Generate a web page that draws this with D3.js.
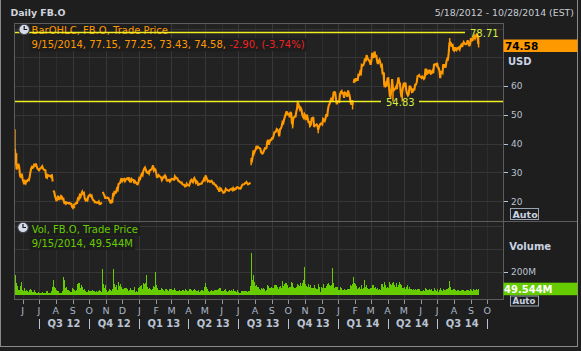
<!DOCTYPE html>
<html><head><meta charset="utf-8">
<script src="https://cdn.jsdelivr.net/npm/d3@7"></script>
<style>
html,body{margin:0;padding:0;background:#1e1e1e;}
svg{display:block;}
text{font-family:"DejaVu Sans",Verdana,sans-serif;}
</style></head><body>
<svg id="c" width="581" height="351"></svg>
<script>
// ---------------- DATA ----------------
const title = "Daily FB.O";
const dateRange = "5/18/2012 - 10/28/2014 (EST)";
const firstTradeDay = "2012-05-18";
const lastTradeDay = "2014-09-15";
const domainStart = "2012-05-16T06:00:00Z";
const domainEnd = "2014-10-29T18:00:00Z";

const closeMonths = ["2012-05","2012-06","2012-07","2012-08","2012-09","2012-10","2012-11","2012-12",
 "2013-01","2013-02","2013-03","2013-04","2013-05","2013-06","2013-07","2013-08","2013-09","2013-10","2013-11","2013-12",
 "2014-01","2014-02","2014-03","2014-04","2014-05","2014-06","2014-07","2014-08","2014-09"];

// daily closes per month (null = price gap between bars)
const closes = [
 [38.23,34.03,31.00,32.00,33.03,31.91,28.84,28.19,29.60],
 [27.72,26.90,25.87,26.81,26.31,27.10,27.01,27.40,27.27,28.29,30.01,31.41,31.91,31.60,31.84,33.05,32.06,33.10,32.23,31.36,31.10],
 [30.77,31.20,31.47,31.73,32.17,31.47,30.97,30.81,30.72,28.25,28.09,29.11,29.00,28.76,28.75,28.45,29.34,26.85,null,23.71,23.15,21.71],
 [20.88,20.04,21.09,21.92,20.72,20.72,21.01,21.81,21.60,20.38,21.20,19.87,19.05,20.01,19.16,19.44,19.44,19.41,19.15,19.34,19.10,19.09,18.06],
 [17.73,18.58,18.96,18.98,19.43,19.43,20.93,20.71,22.00,21.52,22.59,23.29,22.59,22.86,20.79,20.28,20.62,20.32,21.66],
 [21.99,22.27,21.83,22.00,20.91,20.40,20.23,19.64,19.75,19.52,19.52,19.48,19.88,18.98,19.00,19.32,19.50,null,23.23,22.56,21.94,21.11],
 [21.21,21.18,21.25,21.17,20.47,19.99,19.21,20.07,19.86,22.36,22.17,23.56,22.92,23.10,24.32,24.00,25.94,26.15,26.36,27.32,28.00],
 [27.04,27.46,27.71,26.97,27.49,27.84,27.98,27.58,28.24,26.81,26.75,27.71,27.41,27.36,26.26,26.93,26.51,26.05,25.91,26.62],
 [28.00,27.77,28.76,29.42,29.06,30.59,31.30,31.72,30.95,30.10,29.85,30.14,29.66,30.73,30.82,31.08,31.54,32.47,30.79,31.24,30.98],
 [29.73,28.11,28.64,29.05,28.65,28.55,28.26,27.37,27.91,28.50,28.32,28.93,28.46,27.28,27.13,27.27,27.39,26.87,27.25],
 [27.78,27.72,27.52,27.45,28.58,27.96,28.14,27.83,27.08,27.04,26.65,26.49,26.55,25.86,25.74,25.73,25.13,25.21,26.09,25.58],
 [25.53,25.42,26.25,27.07,27.39,26.85,26.59,27.57,28.02,27.40,26.52,26.92,26.63,25.69,25.73,25.97,25.98,26.11,26.14,26.85,26.98,27.77],
 [27.43,28.97,28.31,27.57,26.89,27.12,27.04,26.68,26.82,27.07,26.60,26.13,26.25,25.76,25.66,25.16,25.06,24.31,24.10,23.32,24.55,24.35],
 [23.85,23.52,22.90,22.97,23.29,24.33,24.03,23.77,23.73,23.63,24.02,24.21,24.31,23.90,24.53,23.94,24.25,24.16,24.66,24.88],
 [24.81,24.41,24.52,24.37,24.71,25.48,25.80,25.81,25.91,26.28,26.32,26.65,26.18,25.88,26.05,26.13,26.51,null,34.36,34.01,35.43,37.63,36.80],
 [37.49,38.05,39.19,38.55,38.87,38.54,38.50,38.22,37.02,36.65,36.56,37.08,37.81,38.41,38.32,38.55,40.55,41.34,39.64,40.55,41.28,41.29],
 [41.87,41.78,42.66,43.95,44.04,44.24,45.04,44.75,44.31,42.51,45.07,45.23,45.98,47.49,47.19,48.45,49.46,50.39,51.24,50.23],
 [50.42,50.28,49.18,51.04,50.52,47.14,46.77,49.05,49.11,49.51,49.50,51.14,52.21,54.22,53.85,52.68,51.90,52.45,51.95,50.23,49.40,49.01,50.21],
 [49.75,48.22,50.11,49.12,47.56,47.53,46.20,46.61,48.71,48.99,49.01,45.83,46.36,46.43,46.70,46.23,44.82,45.89,46.49,47.01],
 [47.06,46.73,48.62,48.34,47.94,48.84,50.25,49.38,51.83,53.32,53.81,54.86,55.57,55.05,55.12,57.77,57.96,57.73,55.44,53.71,54.65],
 [54.71,54.56,57.20,57.92,58.23,57.22,57.94,55.91,57.74,57.60,57.19,56.30,58.51,57.51,56.63,54.45,53.55,55.14,53.53,null,61.08,62.57],
 [61.48,62.75,62.19,62.16,64.32,63.55,64.85,64.45,67.33,67.09,67.30,68.06,69.63,68.59,70.78,69.85,69.26,68.94,68.46],
 [67.41,68.80,71.57,70.84,69.80,72.03,70.10,70.88,68.83,67.72,68.74,69.19,68.24,66.97,67.24,64.10,64.89,60.39,60.97,60.01,60.24],
 [62.62,62.72,59.49,56.75,56.95,58.19,62.41,59.16,58.53,58.89,59.09,59.72,58.94,61.24,63.03,61.36,60.87,57.71,56.14,58.15,59.78],
 [61.15,60.46,61.22,58.53,57.39,56.76,57.24,59.83,59.83,59.23,57.92,58.02,59.21,58.56,60.49,60.52,61.35,63.48,63.51,63.83,63.30],
 [63.08,62.87,63.34,62.88,62.50,62.88,65.77,65.78,64.29,64.50,65.60,65.00,65.60,64.34,64.50,65.18,64.51,67.44,67.58,67.60,67.29],
 [68.06,66.45,66.29,65.29,62.76,64.97,64.87,64.56,67.64,66.34,67.66,66.41,68.42,69.40,69.27,71.29,74.98,75.19,74.92,73.71,74.68,72.65],
 [72.36,73.51,72.69,72.47,73.17,73.06,73.44,72.83,73.77,74.30,73.63,74.59,75.29,74.81,74.57,74.57,75.02,75.96,74.63,73.86,74.82],
 [76.68,75.83,75.95,77.03,77.43,76.67,77.43,77.92,77.48,74.58]
];

// daily volume per month, millions of shares
const volumes = [
 [573,168,102,74,43,37,78,57,111],
 [41,35,42,61,27,38,28,25,16,40,44,31,40,26,22,36,17,20,15,15,19],
 [14,12,15,12,18,20,13,13,12,30,22,28,15,14,16,16,27,64,124,64,56],
 [48,38,35,26,30,17,15,14,15,30,28,157,129,56,66,40,36,40,30,22,20,25,52],
 [56,48,38,27,37,41,91,100,104,55,81,68,35,40,44,28,20,23,43],
 [26,30,34,32,38,27,30,34,22,32,24,22,28,36,31,23,36,228,90,54,80],
 [39,25,24,30,50,36,39,34,47,225,110,96,62,44,84,39,112,76,62,92,68],
 [52,45,40,53,56,54,50,35,40,52,53,38,38,43,66,15,23,34,26,60],
 [69,64,72,83,45,104,95,90,98,172,70,48,50,55,50,42,50,59,75,63,195],
 [85,56,47,40,41,36,38,53,45,38,35,49,42,49,38,35,43,49,44],
 [45,38,38,40,58,41,28,31,33,27,40,28,30,43,36,29,52,40,40,33],
 [34,36,49,50,40,27,27,42,47,37,34,28,29,40,36,25,29,33,42,37,34,36],
 [64,104,64,45,42,31,26,28,30,40,33,35,33,38,40,40,40,39,46,58,60,35],
 [35,30,35,42,39,45,29,26,29,31,36,31,36,30,52,25,30,28,26,36],
 [20,21,10,16,22,35,28,33,20,35,31,31,21,33,27,28,76,365,136,125,173,96],
 [106,75,80,63,66,64,48,41,57,53,46,54,48,50,35,42,87,72,67,60,60,40],
 [67,55,58,81,66,84,80,63,49,69,78,49,59,115,75,91,90,99,99,80],
 [54,46,69,67,56,107,99,68,58,58,60,64,71,88,84,74,70,99,72,73,102,130,240],
 [95,82,77,67,91,70,80,69,56,57,58,83,65,53,48,50,88,62,44,23],
 [64,60,90,70,60,55,75,68,92,100,85,78,80,62,235,98,53,40,69,62,64],
 [42,38,70,57,56,42,42,50,40,39,38,44,50,43,45,83,72,50,90,150,98],
 [95,72,56,45,60,65,45,46,80,50,55,60,127,65,85,60,50,45,50],
 [55,60,80,80,60,60,68,48,56,55,40,46,43,60,90,90,70,110,80,70,60],
 [70,60,75,110,90,80,75,100,110,80,70,60,105,70,80,60,110,90,80,60,60],
 [60,65,50,70,80,65,50,65,45,40,45,40,45,42,50,42,43,45,50,45,40],
 [35,35,35,32,37,35,60,50,40,35,40,50,40,40,45,35,35,60,40,40,35],
 [40,45,25,40,60,50,40,35,45,35,40,40,50,45,45,60,120,70,50,40,40,45],
 [45,40,40,35,40,38,34,33,35,38,40,36,38,32,33,30,36,42,38,34,36],
 [45,40,35,45,40,40,40,45,40,49.544]
];

// notable intraday ranges [date, low, high]
const wicks = [
 ["2012-05-18",38.0,45.0],["2012-05-21",33.0,36.7],["2012-09-04",17.55,18.3],
 ["2013-07-25",32.5,35.0],["2013-10-09",45.3,47.9],["2013-10-18",52.9,54.83],
 ["2013-11-25",43.6,45.9],["2014-01-27",51.9,54.9],["2014-03-26",59.6,64.5],
 ["2014-04-07",55.6,58.0],["2014-04-11",54.7,58.9],["2014-04-28",54.7,58.0],
 ["2014-07-24",74.5,76.7],["2014-09-15",73.43,77.25]
];

const refLevels = [78.71, 54.83];
const priceTicks = [20,30,40,50,60];
const priceGrid = [20,30,40,50,60,70,80];
const volTicks = [200];
const volGrid = [200,400,600];
const lastInfo = {date:"9/15/2014", open:77.15, high:77.25, low:73.43, close:74.58, chg:-2.90, pct:-3.74, vol:49.544};

// ---------------- CHART ----------------
const svg = d3.select("#c");
const parse = d3.utcParse("%Y-%m-%d");
const L=14, R=503, T=23, SEP=221.5, B=299.5;
const x = d3.scaleUtc().domain([new Date(domainStart), new Date(domainEnd)]).range([L, R]);
const y = d3.scaleLinear().domain([12.95, 81.94]).range([SEP, T]);
const yv = d3.scaleLinear().domain([0, 200]).range([294.5, 271.7]);

// build points
const first = parse(firstTradeDay), lastEnd = d3.utcDay.offset(parse(lastTradeDay), 1);
const pts = [];
closeMonths.forEach((m, k) => {
  let s = parse(m + "-01"), e = d3.utcMonth.offset(s, 1);
  if (s < first) s = first;
  if (e > lastEnd) e = lastEnd;
  const vals = closes[k], n = vals.filter(v => v != null).length;
  let j = 0;
  vals.forEach(v => {
    if (v == null) { pts.push({gap:true}); return; }
    pts.push({t:new Date(+s + j * (e - s) / n), c:v, v:volumes[k][j]});
    j++;
  });
});
const bars = pts.filter(d => !d.gap);

svg.append("rect").attr("width",581).attr("height",351).attr("fill","#1e1e1e");
svg.append("rect").attr("x",L).attr("y",T).attr("width",R-L).attr("height",B-T).attr("fill","#222222");

// grid
const months = d3.utcMonth.range(d3.utcMonth.ceil(x.domain()[0]), x.domain()[1]);
const g = svg.append("g").attr("shape-rendering","crispEdges");
g.selectAll(".vg").data(months).join("line")
  .attr("x1", d => Math.round(x(d)) + 0.5).attr("x2", d => Math.round(x(d)) + 0.5)
  .attr("y1", T).attr("y2", B)
  .attr("stroke", d => d.getUTCMonth() % 2 === 0 ? "#383838" : "#2d2d2d");
g.selectAll(".hg").data(priceGrid).join("line")
  .attr("x1", L).attr("x2", R).attr("y1", d => Math.round(y(d)) + 0.5).attr("y2", d => Math.round(y(d)) + 0.5)
  .attr("stroke", "#363636");
g.selectAll(".hv").data(volGrid).join("line")
  .attr("x1", L).attr("x2", R).attr("y1", d => Math.round(yv(d)) + 0.5).attr("y2", d => Math.round(yv(d)) + 0.5)
  .attr("stroke", "#363636");

// volume bars
svg.append("g").attr("shape-rendering","crispEdges").selectAll("rect").data(bars).join("rect")
  .attr("x", d => x(d.t) - 0.5).attr("width", 1)
  .attr("y", d => yv(d.v)).attr("height", d => yv(0) - yv(d.v))
  .attr("fill", "#66cc00");

// price
const line = d3.line().defined(d => !d.gap).x(d => x(d.t)).y(d => y(d.c));
svg.append("path").datum(pts).attr("d", line).attr("fill","none")
  .attr("stroke","#ff9900").attr("stroke-width",2.1).attr("stroke-linejoin","miter").attr("stroke-miterlimit",3);
svg.append("g").selectAll("line").data(wicks).join("line")
  .attr("x1", d => x(parse(d[0]))).attr("x2", d => x(parse(d[0])))
  .attr("y1", d => y(d[1])).attr("y2", d => y(d[2]))
  .attr("stroke","#ff9900").attr("stroke-width",1.5);

// legend helper
function clock(cx, cy) {
  const c = svg.append("g");
  c.append("circle").attr("cx",cx).attr("cy",cy).attr("r",5.3).attr("fill","#d4dae6").attr("stroke","#3a3f4a").attr("stroke-width",1.1);
  c.append("path").attr("d",`M${cx},${cy-3.5}V${cy}H${cx+3}`).attr("fill","none").attr("stroke","#1a1a1a").attr("stroke-width",1.2);
}
function legendBlock(x0, lines, yBase) {
  const grp = svg.append("g");
  const bg = grp.append("g");
  const txt = grp.append("g");
  lines.forEach((ln, i) => {
    const t = txt.append("text").attr("x", x0).attr("y", yBase + i * 14).attr("font-size", 10);
    ln.forEach(seg => t.append("tspan").attr("fill", seg[1]).text(seg[0]));
    const w = t.node().getComputedTextLength();
    bg.append("rect").attr("x", x0 - 2).attr("y", yBase + i * 14 - 10).attr("width", w + 4).attr("height", 13).attr("fill", "#1d1d1d");
  });
  return {bg, txt};
}

// legends
const orange = "#ff9900", red = "#ee2222", green = "#66cc00";
const pLeg = legendBlock(31.6, [
  [["BarOHLC, FB.O, Trade Price", orange]],
  [[`${lastInfo.date}, ${lastInfo.open.toFixed(2)}, ${lastInfo.high.toFixed(2)}, ${lastInfo.low.toFixed(2)}, ${lastInfo.close.toFixed(2)}, `, orange],
   [`${lastInfo.chg.toFixed(2)}, (${lastInfo.pct.toFixed(2)}%)`, red]]
], 34.3);
legendBlock(31.7, [
  [["Vol, FB.O, Trade Price", green]],
  [[`${lastInfo.date}, ${lastInfo.vol.toFixed(3)}M`, green]]
], 233);

// reference lines
const yellow = "#eeee22", ytxt = "#d6ee3e";
const refLay = [{x0:L, x1:465, tx:470}, {x0:L, x1:381, tx:386, x2:419}];
const refG = svg.append("g");
refLevels.forEach((v, i) => {
  const lay = refLay[i], yy = Math.round(y(v)) + 0.5;
  refG.append("line").attr("x1", lay.x0).attr("x2", lay.x1).attr("y1", yy).attr("y2", yy).attr("stroke", yellow).attr("stroke-width", 1.3);
  if (lay.x2) refG.append("line").attr("x1", lay.x2).attr("x2", R).attr("y1", yy).attr("y2", yy).attr("stroke", yellow).attr("stroke-width", 1.3);
  refG.append("text").attr("x", lay.tx).attr("y", yy + 4).attr("font-size", 10).attr("fill", ytxt).text(v.toFixed(2));
});
pLeg.txt.raise();
clock(24.2, 29.5);
clock(23, 227.5);

// frame
const fr = svg.append("g").attr("stroke","#5c5c5c").attr("shape-rendering","crispEdges");
fr.append("line").attr("x1",L).attr("x2",R).attr("y1",T+0.5).attr("y2",T+0.5);
fr.append("line").attr("x1",L+0.5).attr("x2",L+0.5).attr("y1",T).attr("y2",B);
fr.append("line").attr("x1",R+0.5).attr("x2",R+0.5).attr("y1",T).attr("y2",B);
fr.append("line").attr("x1",L).attr("x2",R+1).attr("y1",B).attr("y2",B);
fr.append("line").attr("x1",L).attr("x2",578).attr("y1",SEP).attr("y2",SEP);
const ob = svg.append("g").attr("stroke","#8a8a8a").attr("shape-rendering","crispEdges");
ob.append("line").attr("x1",0.5).attr("x2",0.5).attr("y1",0).attr("y2",347);
ob.append("line").attr("x1",577.5).attr("x2",577.5).attr("y1",0).attr("y2",347);
ob.append("line").attr("x1",0).attr("x2",578).attr("y1",346.5).attr("y2",346.5);

// header
svg.append("text").attr("x",10.4).attr("y",16.3).attr("font-size",9.4).attr("font-weight","bold").attr("fill","#d0d4dc").text(title);
svg.append("text").attr("x",574).attr("y",16.3).attr("font-size",9.4).attr("text-anchor","end").attr("fill","#c8ccd4").text(dateRange);

// right price axis
const axCol = "#b9c3d3";
const ra = svg.append("g");
ra.selectAll("line").data(priceTicks).join("line")
  .attr("x1",R+1).attr("x2",R+5).attr("y1",d=>Math.round(y(d))+0.5).attr("y2",d=>Math.round(y(d))+0.5)
  .attr("stroke",axCol).attr("shape-rendering","crispEdges");
ra.selectAll("text").data(priceTicks).join("text")
  .attr("x",511).attr("y",d=>y(d)+3.3).attr("font-size",9).attr("fill",axCol).text(d=>d);
svg.append("text").attr("x",508).attr("y",64.6).attr("font-size",10).attr("font-weight","bold").attr("fill","#c9d2e0").text("USD");
svg.append("rect").attr("x",503.5).attr("y",39.5).attr("width",74).attr("height",12.5).attr("fill","#ff9900");
svg.append("text").attr("x",505).attr("y",50.2).attr("font-size",10.5).attr("font-weight","bold").attr("fill","#000").text(lastInfo.close.toFixed(2));
function autoBox(yy, h, fs){
  svg.append("rect").attr("x",510.5).attr("y",yy+0.5).attr("width",28).attr("height",h).attr("fill","#1e1e1e").attr("stroke","#9aa4b4").attr("stroke-width",1);
  svg.append("text").attr("x",512.5).attr("y",yy+h-1.2).attr("font-size",fs).attr("font-weight","bold").attr("fill","#c9d2e0").text("Auto");
}
autoBox(208, 11, 9.5);
autoBox(295.5, 10, 8.6);

// right volume axis
ra.append("g").selectAll("line").data(volTicks).join("line")
  .attr("x1",R+1).attr("x2",R+5).attr("y1",d=>Math.round(yv(d))+0.5).attr("y2",d=>Math.round(yv(d))+0.5)
  .attr("stroke",axCol).attr("shape-rendering","crispEdges");
ra.append("g").selectAll("text").data(volTicks).join("text")
  .attr("x",511).attr("y",d=>yv(d)+3.3).attr("font-size",9).attr("fill",axCol).text(d=>d+"M");
svg.append("text").attr("x",509.3).attr("y",249.6).attr("font-size",10).attr("font-weight","bold").attr("fill","#c9d2e0").text("Volume");
svg.append("rect").attr("x",503.5).attr("y",282.7).attr("width",74).attr("height",12.5).attr("fill","#66cc00");
svg.append("text").attr("x",504).attr("y",293.3).attr("font-size",10).attr("font-weight","bold").attr("fill","#ffffff").text(lastInfo.vol.toFixed(3)+"M");

// bottom axis: months
const mfmt = d3.utcFormat("%B");
const ba = svg.append("g");
ba.selectAll("line").data(months).join("line")
  .attr("x1",d=>Math.round(x(d))+0.5).attr("x2",d=>Math.round(x(d))+0.5).attr("y1",300).attr("y2",303.5)
  .attr("stroke","#8e98a8").attr("shape-rendering","crispEdges");
ba.selectAll("text").data(months).join("text")
  .attr("x",d=>x(d)).attr("y",313.8).attr("text-anchor","middle").attr("font-size",9.5).attr("fill","#aab6c8")
  .text(d=>mfmt(d)[0]);
// quarters
const quarters = months.filter(d => d.getUTCMonth() % 3 === 0);
svg.append("g").selectAll("line").data(quarters).join("line")
  .attr("x1",d=>Math.round(x(d))+0.5).attr("x2",d=>Math.round(x(d))+0.5).attr("y1",318.5).attr("y2",328.5)
  .attr("stroke","#b9c3d3").attr("shape-rendering","crispEdges");
const qpairs = d3.pairs(quarters);
svg.append("g").selectAll("text").data(qpairs).join("text")
  .attr("x",d=>(x(d[0])+x(d[1]))/2).attr("y",327).attr("text-anchor","middle")
  .attr("font-size",10).attr("font-weight","bold").attr("fill","#b9c3d3")
  .text(d=>"Q"+(Math.floor(d[0].getUTCMonth()/3)+1)+" "+String(d[0].getUTCFullYear()).slice(2));
</script>
</body></html>
